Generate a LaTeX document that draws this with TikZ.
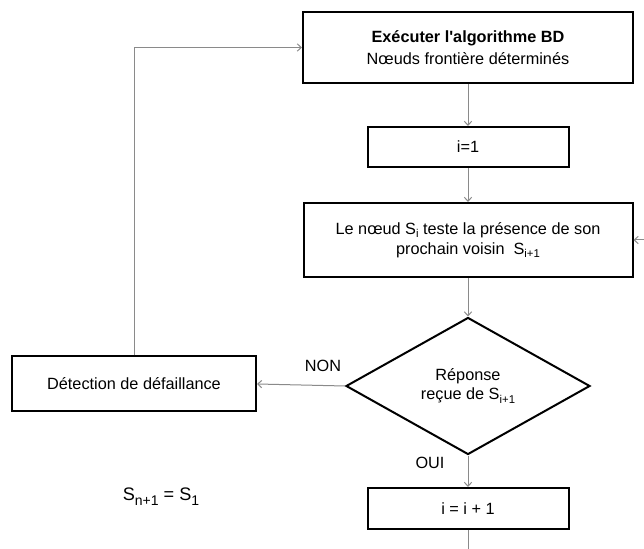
\documentclass[tikz,border=0pt]{standalone}
\usepackage{fontspec}
\setmainfont{Liberation Sans}[Ligatures=TeXOff]
\usetikzlibrary{shapes.geometric,arrows.meta}

% lowered index used for the node names S_i
\newcommand{\lowidx}[1]{\raisebox{-0.35ex}{\fontsize{8.5}{8.5}\selectfont #1}}

\definecolor{linkgray}{HTML}{8A8A8A}

\begin{document}
\begin{tikzpicture}[x=0.75pt,y=-0.75pt,
  every node/.style={font=\fontsize{12.2}{14.6}\selectfont, text=black},
  procbox/.style={draw=black, line width=1.5pt, fill=white, align=center, inner sep=0pt},
  testbox/.style={draw=black, line width=1.5pt, fill=white, shape=diamond, aspect=1.78,
    inner sep=0pt, align=center},
  link/.style={draw=linkgray, line width=0.75pt, -{Straight Barb[length=3pt,width=5.5pt]}},
  plainlink/.style={draw=linkgray, line width=0.75pt}
]
  % page
  \fill[white] (0,0) rectangle (644,549);
  \useasboundingbox (0,0) rectangle (644,549);

  % main column
  \node[procbox, minimum width=247.5pt, minimum height=53.25pt] (run) at (468,47.5)
    {\textbf{Exécuter l'algorithme BD}\\[1.5pt]Nœuds frontière déterminés};
  \node[procbox, minimum width=150.75pt, minimum height=30pt] (init) at (468,147) {i=1};
  \node[procbox, minimum width=246.75pt, minimum height=55.5pt] (probe) at (468,240)
    {Le nœud S\lowidx{i} teste la présence de son\\prochain voisin\ \ S\lowidx{i+1}};
  \node[testbox, minimum width=183pt, minimum height=102.75pt] (answer) at (468,386)
    {Réponse\\reçue de S\lowidx{i+1}};
  \node[procbox, minimum width=150.75pt, minimum height=30.75pt] (incr) at (468,508.5) {i = i + 1};

  % failure branch
  \node[procbox, minimum width=183pt, minimum height=41.25pt] (alarm) at (134,384)
    {Détection de défaillance};

  % branch labels and ring note
  \node (lblno) at (323,366) {NON};
  \node (lblyes) at (430,463) {OUI};
  \node (ring) at (161,497)
    {\fontsize{13.6}{16}\selectfont S\raisebox{-0.5ex}{\fontsize{10.5}{10.5}\selectfont n+1} = S\raisebox{-0.5ex}{\fontsize{10.5}{10.5}\selectfont 1}};

  % loose ends of the loop
  \coordinate (tail) at (468,549);
  \coordinate (loopin) at (644,240);

  % connectors
  \draw[link] (run) -- (init);
  \draw[link] (init) -- (probe);
  \draw[link] (probe) -- (answer);
  \draw[link] (answer) -- (incr);
  \draw[link] (answer.west) -- (alarm.east);
  \draw[link] (alarm.north) |- (run.west);
  \draw[plainlink] (incr) -- (tail);
  \draw[link] (loopin) -- (probe.east);
\end{tikzpicture}
\end{document}
